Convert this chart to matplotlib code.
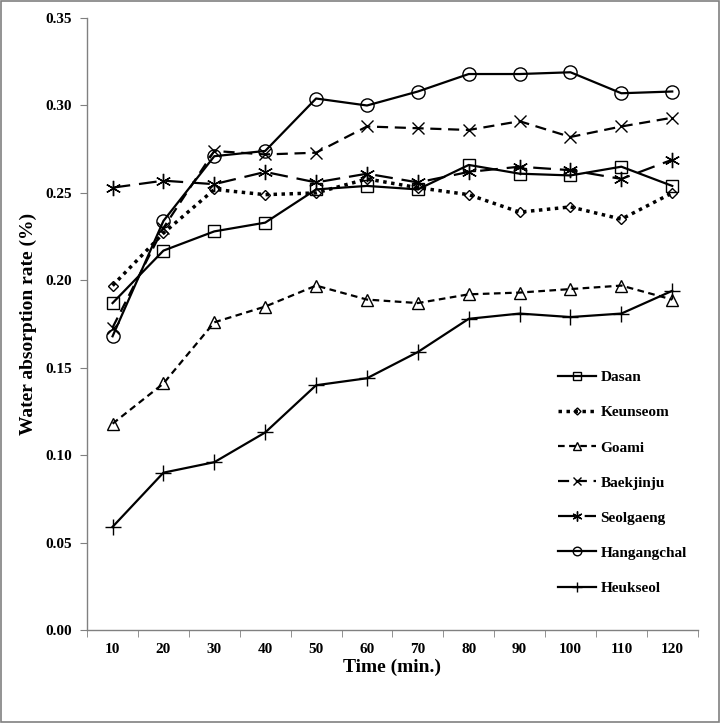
import matplotlib
matplotlib.use("Agg")
import matplotlib.pyplot as plt
from matplotlib.lines import Line2D
import numpy as np

times = ["10", "20", "30", "40", "50", "60", "70", "80", "90", "100", "110", "120"]
dasan = [0.187, 0.217, 0.228, 0.233, 0.252, 0.254, 0.252, 0.266, 0.261, 0.260, 0.265, 0.254]
keunseom = [0.197, 0.227, 0.252, 0.249, 0.250, 0.258, 0.253, 0.249, 0.239, 0.242, 0.235, 0.250]
goami = [0.118, 0.141, 0.176, 0.185, 0.197, 0.189, 0.187, 0.192, 0.193, 0.195, 0.197, 0.189]
baekjinju = [0.173, 0.230, 0.274, 0.272, 0.273, 0.288, 0.287, 0.286, 0.291, 0.282, 0.288, 0.293]
seolgaeng = [0.253, 0.257, 0.255, 0.262, 0.256, 0.261, 0.256, 0.262, 0.265, 0.263, 0.258, 0.269]
hangangchal = [0.168, 0.234, 0.271, 0.274, 0.304, 0.300, 0.308, 0.318, 0.318, 0.319, 0.307, 0.308]
heukseol = [0.059, 0.090, 0.096, 0.113, 0.140, 0.144, 0.159, 0.178, 0.181, 0.179, 0.181, 0.194]

yticks = [0.00, 0.05, 0.10, 0.15, 0.20, 0.25, 0.30, 0.35]

serif = ["Liberation Serif", "DejaVu Serif"]
plt.rcParams['font.family'] = serif

fig = plt.figure(figsize=(7.2, 7.23), dpi=100)
ax = fig.add_axes([0.121, 0.1286, 0.848, 0.8464])
x = np.arange(len(times))

series = [
    ("Dasan", dasan, dict(ls='-', marker='s', ms=8, lw=1.6)),
    ("Keunseom", keunseom, dict(ls=(0, (1, 1.3)), marker='D', ms=5.5, lw=2.5)),
    ("Goami", goami, dict(ls=(0, (3, 2)), marker='^', ms=8.5, lw=1.6)),
    ("Baekjinju", baekjinju, dict(ls=(0, (5, 3)), marker='x', ms=9, lw=1.6)),
    ("Seolgaeng", seolgaeng, dict(ls=(0, (8, 4)), marker=(6, 2, 0), ms=11, lw=1.6)),
    ("Hangangchal", hangangchal, dict(ls='-', marker='o', ms=9.5, lw=1.6)),
    ("Heukseol", heukseol, dict(ls='-', marker='+', ms=11, lw=1.6)),
]

for name, vals, st in series:
    ax.plot(x, vals, color='black', markerfacecolor='none', markeredgecolor='black',
            markeredgewidth=1.0, label=name, **st)

ax.set_xlim(-0.5, len(times) - 0.5)
ax.set_ylim(0, 0.35)
ax.set_yticks(yticks)
ax.set_yticklabels([f"{v:.2f}" for v in yticks], fontweight='bold', fontsize=11)
ax.set_xticks(x)
ax.set_xticklabels(times, fontweight='bold', fontsize=11)
ax.tick_params(axis='x', which='major', length=0, pad=9)
ax.set_xticks(np.arange(-0.5, len(times), 1.0), minor=True)
ax.tick_params(axis='x', which='minor', length=5, direction='out', color='#808080')
ax.tick_params(axis='y', length=5, direction='out', color='#808080', pad=6)

for s in ['top', 'right']:
    ax.spines[s].set_visible(False)
for s in ['left', 'bottom']:
    ax.spines[s].set_color('#808080')
    ax.spines[s].set_linewidth(1.0)

ax.set_ylabel("Water absorption rate (%)", fontweight='bold', fontsize=14, labelpad=6)
ax.set_xlabel("Time (min.)", fontweight='bold', fontsize=14, labelpad=2)

leg_handles = []
for name, vals, st in series:
    st2 = dict(st)
    st2['ms'] = st['ms'] * 0.65
    leg_handles.append(Line2D([], [], color='black', markerfacecolor='none',
                              markeredgecolor='black', markeredgewidth=1.0, **st2))
ax.legend(leg_handles, [s[0] for s in series], loc='lower right',
          bbox_to_anchor=(1.005, 0.035), frameon=False,
          prop=dict(family=serif, weight='bold', size=11),
          labelspacing=1.4, handlelength=2.5, handletextpad=0.3)

fig.patches.append(plt.Rectangle((0.002, 0.002), 0.996, 0.996, transform=fig.transFigure,
                                 fill=False, edgecolor='#808080', lw=1.2))

fig.savefig("out.png", dpi=100)
